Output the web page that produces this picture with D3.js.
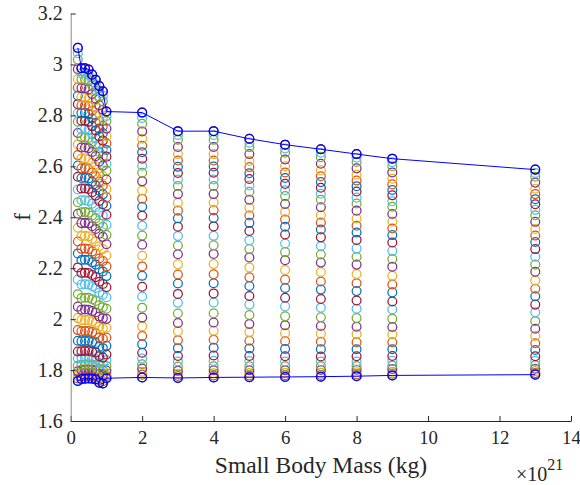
<!DOCTYPE html>
<html><head><meta charset="utf-8">
<script src="https://cdn.jsdelivr.net/npm/d3@7"></script>
<style>body{margin:0;background:#fff}svg{display:block}</style>
</head><body>
<svg id="chart" width="580" height="485"></svg>
<script>
// Small body mass (x 1e21 kg) for each column of points
const masses = [0.2, 0.3, 0.4, 0.5, 0.6, 0.7, 0.8, 0.9, 1, 2, 3, 4, 5, 6, 7, 8, 9, 13];
const xTicks = [0, 2, 4, 6, 8, 10, 12, 14];
const yTicks = [1.6, 1.8, 2.0, 2.2, 2.4, 2.6, 2.8, 3.0, 3.2];
const xLabel = "Small Body Mass (kg)";
const yLabel = "f";
const colorOrder = ["#0072BD", "#D95319", "#EDB120", "#7E2F8E", "#77AC30", "#4DBEEE", "#A2142F"];

// f values per mass column, series 1..35 (bottom to top)
const f_0_2 = [1.757,1.767,1.779,1.795,1.817,1.845,1.873,1.915,1.957,2.004,2.049,2.098,2.155,2.203,2.258,2.305,2.359,2.414,2.459,2.509,2.559,2.603,2.644,2.686,2.731,2.775,2.809,2.844,2.877,2.909,2.943,2.981,3.019,3.044,3.065];
const f_0_3 = [1.765,1.775,1.786,1.800,1.821,1.847,1.874,1.913,1.952,1.996,2.037,2.083,2.136,2.181,2.232,2.276,2.326,2.377,2.420,2.467,2.513,2.554,2.592,2.631,2.674,2.714,2.746,2.779,2.809,2.840,2.872,2.907,2.942,2.965,2.985];
const f_0_4 = [1.766,1.776,1.787,1.801,1.822,1.848,1.875,1.914,1.953,1.996,2.038,2.084,2.137,2.182,2.233,2.277,2.327,2.378,2.421,2.467,2.513,2.555,2.593,2.632,2.674,2.714,2.746,2.779,2.810,2.840,2.872,2.907,2.942,2.965,2.985];
const f_0_5 = [1.767,1.777,1.788,1.802,1.823,1.848,1.875,1.914,1.953,1.996,2.037,2.084,2.136,2.181,2.232,2.275,2.325,2.376,2.418,2.464,2.511,2.552,2.589,2.628,2.671,2.711,2.742,2.775,2.805,2.836,2.867,2.902,2.938,2.961,2.980];
const f_0_6 = [1.766,1.776,1.786,1.801,1.821,1.846,1.872,1.910,1.949,1.992,2.032,2.078,2.129,2.173,2.223,2.266,2.315,2.365,2.407,2.453,2.498,2.539,2.576,2.614,2.656,2.695,2.726,2.758,2.788,2.818,2.849,2.884,2.918,2.941,2.960];
const f_0_7 = [1.764,1.773,1.784,1.798,1.818,1.843,1.869,1.906,1.944,1.986,2.026,2.071,2.122,2.165,2.214,2.257,2.305,2.354,2.396,2.440,2.485,2.525,2.561,2.599,2.640,2.679,2.710,2.741,2.771,2.800,2.831,2.865,2.899,2.921,2.940];
const f_0_8 = [1.750,1.759,1.770,1.784,1.804,1.828,1.854,1.891,1.928,1.970,2.010,2.054,2.104,2.147,2.196,2.238,2.286,2.335,2.376,2.420,2.464,2.504,2.540,2.577,2.618,2.656,2.687,2.718,2.747,2.776,2.807,2.840,2.874,2.896,2.915];
const f_0_9 = [1.747,1.756,1.767,1.780,1.800,1.824,1.849,1.886,1.923,1.964,2.003,2.047,2.096,2.138,2.187,2.228,2.275,2.323,2.363,2.407,2.451,2.490,2.525,2.562,2.602,2.640,2.670,2.701,2.730,2.758,2.788,2.822,2.855,2.877,2.895];
const f_1 = [1.768,1.776,1.786,1.798,1.816,1.838,1.861,1.895,1.928,1.966,2.001,2.041,2.086,2.125,2.169,2.207,2.250,2.294,2.330,2.370,2.410,2.445,2.478,2.511,2.548,2.583,2.610,2.638,2.664,2.690,2.718,2.748,2.778,2.798,2.815];
const f_2 = [1.771,1.782,1.793,1.806,1.823,1.845,1.868,1.901,1.934,1.971,2.006,2.045,2.089,2.127,2.170,2.207,2.249,2.292,2.328,2.367,2.406,2.441,2.473,2.505,2.541,2.575,2.602,2.630,2.655,2.681,2.708,2.737,2.767,2.790,2.811];
const f_3 = [1.769,1.777,1.785,1.797,1.814,1.834,1.855,1.886,1.917,1.952,1.985,2.022,2.064,2.099,2.140,2.175,2.215,2.255,2.289,2.326,2.363,2.396,2.426,2.457,2.491,2.523,2.548,2.574,2.598,2.623,2.648,2.676,2.704,2.723,2.738];
const f_4 = [1.771,1.779,1.787,1.799,1.815,1.836,1.857,1.888,1.919,1.954,1.987,2.023,2.065,2.101,2.141,2.176,2.216,2.256,2.290,2.327,2.364,2.397,2.427,2.458,2.491,2.523,2.548,2.575,2.599,2.623,2.648,2.676,2.704,2.723,2.738];
const f_5 = [1.772,1.779,1.788,1.799,1.815,1.835,1.855,1.885,1.915,1.949,1.981,2.016,2.057,2.091,2.130,2.164,2.203,2.242,2.275,2.310,2.346,2.378,2.407,2.437,2.469,2.500,2.525,2.550,2.573,2.597,2.621,2.648,2.675,2.693,2.708];
const f_6 = [1.773,1.780,1.789,1.799,1.815,1.834,1.854,1.883,1.913,1.945,1.976,2.011,2.050,2.084,2.122,2.155,2.193,2.231,2.263,2.297,2.332,2.363,2.391,2.421,2.452,2.483,2.506,2.531,2.554,2.576,2.600,2.627,2.653,2.670,2.685];
const f_7 = [1.774,1.781,1.789,1.800,1.815,1.834,1.853,1.882,1.911,1.943,1.973,2.007,2.045,2.079,2.116,2.148,2.185,2.222,2.254,2.287,2.321,2.352,2.379,2.408,2.439,2.469,2.492,2.516,2.538,2.561,2.584,2.610,2.636,2.653,2.667];
const f_8 = [1.776,1.783,1.791,1.801,1.816,1.834,1.854,1.882,1.909,1.941,1.970,2.004,2.041,2.073,2.110,2.141,2.177,2.214,2.244,2.277,2.311,2.340,2.367,2.395,2.426,2.454,2.477,2.501,2.522,2.544,2.567,2.592,2.617,2.634,2.648];
const f_9 = [1.779,1.786,1.793,1.804,1.818,1.836,1.855,1.882,1.909,1.940,1.969,2.001,2.038,2.069,2.105,2.136,2.170,2.206,2.236,2.268,2.301,2.330,2.356,2.383,2.413,2.441,2.463,2.486,2.507,2.529,2.551,2.576,2.600,2.616,2.630];
const f_13 = [1.782,1.788,1.796,1.805,1.819,1.836,1.854,1.879,1.905,1.934,1.962,1.992,2.027,2.057,2.090,2.119,2.152,2.186,2.214,2.245,2.275,2.303,2.328,2.354,2.382,2.408,2.429,2.451,2.471,2.491,2.512,2.536,2.559,2.574,2.587];

const columns = [f_0_2, f_0_3, f_0_4, f_0_5, f_0_6, f_0_7, f_0_8, f_0_9, f_1, f_2, f_3, f_4, f_5, f_6, f_7, f_8, f_9, f_13];

const svg = d3.select("#chart");
const x = d3.scaleLinear().domain([0, 14]).range([70.7, 571]);
const y = d3.scaleLinear().domain([1.6, 3.2]).range([421, 13.5]);
const R = 4.4;
const SW = 1.25;
const serif = "'Liberation Serif','Times New Roman',serif";
const axisCol = "#262626";

// series (one per row index), drawn in order 1..35
const nSeries = columns[0].length;
const series = d3.range(nSeries).map(i => masses.map((m, j) => ({m, f: columns[j][i]})));
const g = svg.append("g");
series.forEach((pts, i) => {
  g.selectAll(null).data(pts).enter().append("circle")
    .attr("cx", d => x(d.m)).attr("cy", d => y(d.f)).attr("r", R)
    .attr("fill", "none").attr("stroke", colorOrder[i % colorOrder.length]).attr("stroke-width", SW);
});

// max and min envelopes
const maxPts = masses.map((m, j) => ({m, f: d3.max(columns[j])}));
const minPts = masses.map((m, j) => ({m, f: d3.min(columns[j])}));
const line = d3.line().x(d => x(d.m)).y(d => y(d.f));
[maxPts, minPts].forEach(pts => {
  svg.append("path").datum(pts).attr("d", line).attr("fill", "none").attr("stroke", "#0000FF").attr("stroke-width", 1);
  svg.append("g").selectAll("circle").data(pts).enter().append("circle")
    .attr("cx", d => x(d.m)).attr("cy", d => y(d.f)).attr("r", R)
    .attr("fill", "none").attr("stroke", "#0000FF").attr("stroke-width", SW);
});

// axes
const xAxis = d3.axisBottom(x).tickValues(xTicks).tickSizeInner(-5).tickSizeOuter(0).tickPadding(9.5).tickFormat(d3.format("d"));
const gx = svg.append("g").attr("transform", "translate(0,421)").call(xAxis);
const yAxis = d3.axisLeft(y).tickValues(yTicks).tickSizeInner(-5).tickSizeOuter(0).tickPadding(8).tickFormat(d => String(+d.toFixed(1)));
const gy = svg.append("g").attr("transform", "translate(70.7,0)").call(yAxis);
[gx, gy].forEach(ax => {
  ax.selectAll("text").attr("font-family", serif).attr("font-size", 20).attr("fill", axisCol);
  ax.selectAll("line").attr("stroke", axisCol);
});
gx.selectAll(".tick text").attr("font-size", 18.8);
gx.select(".domain").attr("stroke", axisCol);
gy.select(".domain").attr("stroke", "#8a8a8a");

svg.append("text").attr("x", 320.9).attr("y", 473).attr("text-anchor", "middle")
  .attr("font-family", serif).attr("font-size", 23.5).attr("fill", axisCol).text(xLabel);
svg.append("text").attr("transform", "translate(30,217) rotate(-90)").attr("text-anchor", "middle")
  .attr("font-family", serif).attr("font-size", 24).attr("fill", axisCol).text(yLabel);
const ex = svg.append("text").attr("x", 516).attr("y", 481).attr("font-family", serif).attr("font-size", 20).attr("fill", axisCol);
ex.append("tspan").text("\u00d710");
ex.append("tspan").attr("dy", -11).attr("font-size", 16).text("21");
</script>
</body></html>
